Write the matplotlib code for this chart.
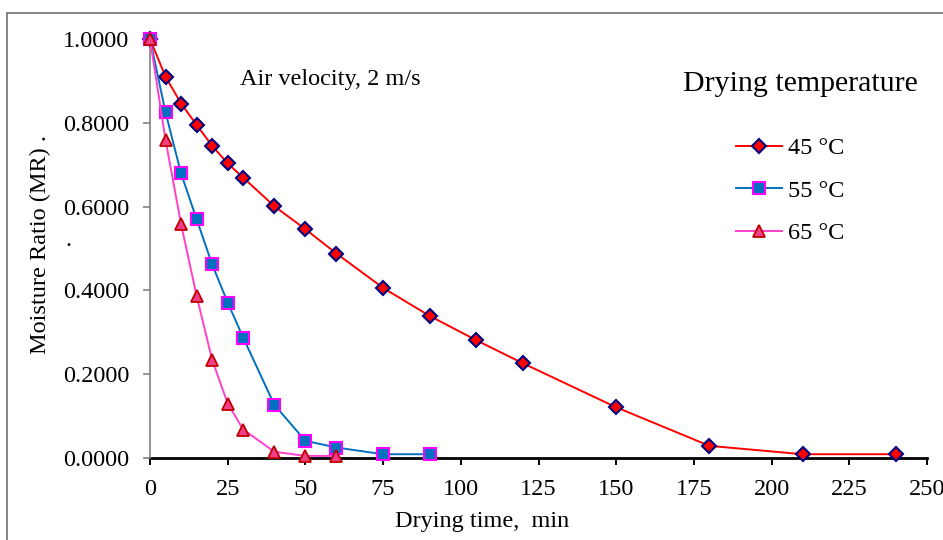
import matplotlib
matplotlib.use("Agg")
import matplotlib.pyplot as plt
from matplotlib.patches import Rectangle

plt.rcParams['font.family'] = ['Liberation Serif', 'DejaVu Serif']

# drying data (moisture ratio vs time, min)
t45 = [0, 5, 10, 15, 20, 25, 30, 40, 50, 60, 75, 90, 105, 120, 150, 180, 210, 240]
mr45 = [1.0, 0.910, 0.846, 0.795, 0.745, 0.703, 0.669, 0.601, 0.546, 0.488,
        0.406, 0.339, 0.281, 0.226, 0.121, 0.029, 0.009, 0.009]

t55 = [0, 5, 10, 15, 20, 25, 30, 40, 50, 60, 75, 90]
mr55 = [1.0, 0.825, 0.679, 0.570, 0.462, 0.371, 0.287, 0.127, 0.041, 0.025, 0.009, 0.009]

t65 = [0, 5, 10, 15, 20, 25, 30, 40, 50, 60]
mr65 = [1.0, 0.759, 0.558, 0.387, 0.234, 0.130, 0.068, 0.015, 0.005, 0.005]

labels = ["45 °C", "55 °C", "65 °C"]
xticks = [0, 25, 50, 75, 100, 125, 150, 175, 200, 225, 250]
yticks = [0.0, 0.2, 0.4, 0.6, 0.8, 1.0]

fig = plt.figure(figsize=(9.43, 5.40), dpi=100)
ax = fig.add_axes([150 / 943, 1 - 458 / 540, 777 / 943, 419 / 540])

# outer frame of the picture
fig.patches.append(Rectangle((7 / 943, -0.1), 1.2, 1 - 13 / 540 + 0.1,
                             transform=fig.transFigure, fill=False,
                             edgecolor='#707070', linewidth=1.2))

ax.plot(t45, mr45, color='#FF0000', lw=1.4, marker='D', ms=7,
        mfc='#FF0000', mec='#000080', mew=1.5, label=labels[0], clip_on=False, zorder=3)
ax.plot(t55, mr55, color='#0070C0', lw=1.4, marker='s', ms=8.5,
        mfc='#0070C0', mec='#FF00FF', mew=1.5, label=labels[1], clip_on=False, zorder=3)
ax.plot(t65, mr65, color='#FF40C8', lw=1.4, marker='^', ms=9,
        mfc='#F0408A', mec='#C00000', mew=1.3, label=labels[2], clip_on=False, zorder=4)

ax.set_xlim(0, 250)
ax.set_ylim(0, 1.0)
ax.set_xticks(xticks)
ax.set_yticks(yticks)
ax.set_yticklabels([f"{v:.4f}" for v in yticks])

for s in ['top', 'right']:
    ax.spines[s].set_visible(False)
ax.spines['left'].set_color('#808080')
ax.spines['left'].set_linewidth(1.2)
ax.spines['bottom'].set_color('black')
ax.spines['bottom'].set_linewidth(2)
ax.spines['bottom'].set_zorder(2)

ax.tick_params(axis='y', direction='out', length=5, width=1.2, color='#808080',
               labelsize=17.5, pad=10)
ax.tick_params(axis='x', direction='out', length=5, width=1.4, color='black',
               labelsize=17.5, pad=10)

fig.text(482 / 943, 1 - 521 / 540, "Drying time,  min", fontsize=17.5,
         ha='center', va='center')
fig.text(40 / 943, 1 - 245 / 540, "Moisture Ratio (MR) .", fontsize=17.5,
         rotation=90, ha='center', va='center')
fig.text(68 / 943, 1 - 240 / 540, ".", fontsize=17.5, ha='center', va='center')

fig.text(330 / 943, 1 - 80 / 540, "Air velocity, 2 m/s", fontsize=17.5,
         ha='center', va='center')
fig.text(800 / 943, 1 - 84 / 540, "Drying temperature", fontsize=21.5,
         ha='center', va='center')

leg = ax.legend(loc='upper left', bbox_to_anchor=(736 / 943, 1 - 137 / 540),
                bbox_transform=fig.transFigure, frameon=False, fontsize=17.5,
                handlelength=1.9, handletextpad=0.25, labelspacing=0.85,
                borderpad=0, borderaxespad=0)

fig.savefig("out.png", dpi=100)
